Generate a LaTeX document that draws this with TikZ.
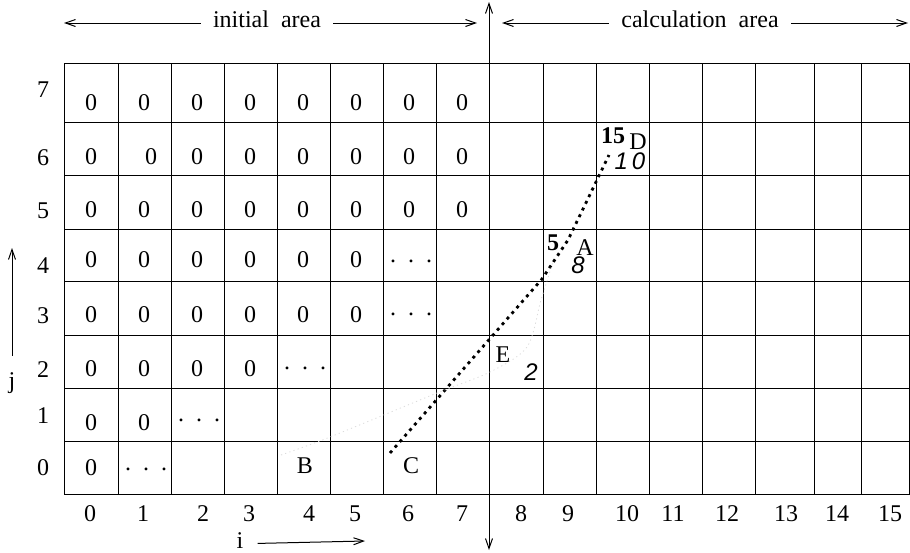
\documentclass[tikz,border=0pt]{standalone}
\usepackage{fontspec}
\setmainfont{Liberation Serif}
\setsansfont{Liberation Sans}
\usepackage{tikz}
\usetikzlibrary{arrows.meta}

\newcommand{\tdots}{.\hspace{6pt}.\hspace{6pt}.}

\begin{document}
\begin{tikzpicture}[
    x=0.5pt, y=-0.5pt,
    every node/.style={font=\fontsize{12}{14}\selectfont, inner sep=0pt},
    cell/.style={anchor=base},
    weight/.style={anchor=base, font=\fontsize{12}{14}\selectfont\bfseries},
    cost/.style={anchor=base, font=\fontsize{12}{14}\selectfont\sffamily\itshape},
    gridline/.style={line width=0.5pt},
    arrow/.style={-{Straight Barb[length=5pt,width=3.5pt]}, line width=0.5pt},
    twoway/.style={{Straight Barb[length=5pt,width=3.5pt]}-{Straight Barb[length=5pt,width=3.5pt]}, line width=0.5pt},
    route/.style={line width=1.4pt, dash pattern=on 1.5pt off 2.2pt},
    faint/.style={black!14, line width=0.4pt, dash pattern=on 0.6pt off 1.6pt},
]
\useasboundingbox (0,0) rectangle (910,552);

% Grid
\draw[gridline] (64,63) rectangle (909,494);
\foreach \x in {118,171,224,277,330,383,436,543,596,649,702,755,814,861}
  \draw[gridline] (\x,63) -- (\x,494);
\foreach \y in {122,175,229,281,335,388,441}
  \draw[gridline] (64,\y) -- (909,\y);

% Area labels
\node[anchor=mid, inner xsep=6pt] (initial) at (267,23) {initial\ \ area};
\node[anchor=mid, inner xsep=6pt] (calc) at (700,23) {calculation\ \ area};
\coordinate (initL) at (64,23);
\coordinate (initR) at (477,23);
\coordinate (calcL) at (502,23);
\coordinate (calcR) at (908,23);
\draw[arrow] (initial.mid west) -- (initL);
\draw[arrow] (initial.mid east) -- (initR);
\draw[arrow] (calc.mid west) -- (calcL);
\draw[arrow] (calc.mid east) -- (calcR);

% Separating axis
\coordinate (axtop) at (489,2);
\coordinate (axbot) at (489,550);
\draw[twoway] (axbot) -- (axtop);

% Row numbers j
\foreach \j/\y in {7/97,6/165,5/218,4/273,3/323,2/377,1/423,0/475}
  \node[cell] (row\j) at (43,\y) {\j};
\node[cell, inner ysep=8pt] (jlbl) at (12,388) {j};
\coordinate (jtip) at (12,248);
\draw[arrow] (jlbl.north) -- (jtip);

% Column numbers i
\foreach \i/\x in {0/90,1/143,2/203,3/249,4/309,5/355,6/408,7/462,8/521,9/568,10/627,11/673,12/727,13/786,14/837,15/890}
  \node[cell] (col\i) at (\x,521) {\i};
\node[cell, inner xsep=7pt] (ilbl) at (240,548) {i};
\coordinate (itip) at (365,541);
\draw[arrow] (ilbl.mid east) -- (itip);

% Initial values
\foreach \x [count=\c from 0] in {91,144,197,250,303,356,409,462} {
  \node[cell] (z7-\c) at (\x,110) {0};
  \node[cell] (z5-\c) at (\x,217) {0};
}
\foreach \x [count=\c from 0] in {91,151,197,250,303,356,409,462}
  \node[cell] (z6-\c) at (\x,164) {0};
\foreach \x [count=\c from 0] in {91,144,197,250,303,356} {
  \node[cell] (z4-\c) at (\x,267) {0};
  \node[cell] (z3-\c) at (\x,322) {0};
}
\foreach \x [count=\c from 0] in {91,144,197,250}
  \node[cell] (z2-\c) at (\x,376) {0};
\foreach \x [count=\c from 0] in {91,144}
  \node[cell] (z1-\c) at (\x,430) {0};
\node[cell] (z0-0) at (91,475) {0};

% Dots
\node[cell] (d4) at (411,262) {\tdots};
\node[cell] (d3) at (411,315) {\tdots};
\node[cell] (d2) at (305,369) {\tdots};
\node[cell] (d1) at (199,421) {\tdots};
\node[cell] (d0) at (146,470) {\tdots};

% Points
\node[cell] (B) at (305,473) {B};
\node[cell] (C) at (411,473) {C};
\node[cell] (E) at (503,362) {E};
\node[cost] (Ecost) at (531,380) {2};
\node[cell] (A) at (585,255) {A};
\node[weight] (Aw) at (553,250) {5};
\node[cost] (Acost) at (578,273) {8};
\node[cell] (D) at (638,149) {D};
\node[weight] (Dw) at (613,143) {15};
\node[cost] (Dcost) at (630,169) {1\,0};

% Route C - E - A - D
\coordinate (p0) at (390,453);
\coordinate (p1) at (542,279);
\coordinate (p2) at (568,240);
\coordinate (p3) at (609,155);
\draw[route] (p0) -- (p1) -- (p2) -- (p3);
\draw[faint] plot[smooth] coordinates {(281,455) (330,437) (437,393) (490,372) (527,347) (541,300) (553,262)};

\end{tikzpicture}
\end{document}
